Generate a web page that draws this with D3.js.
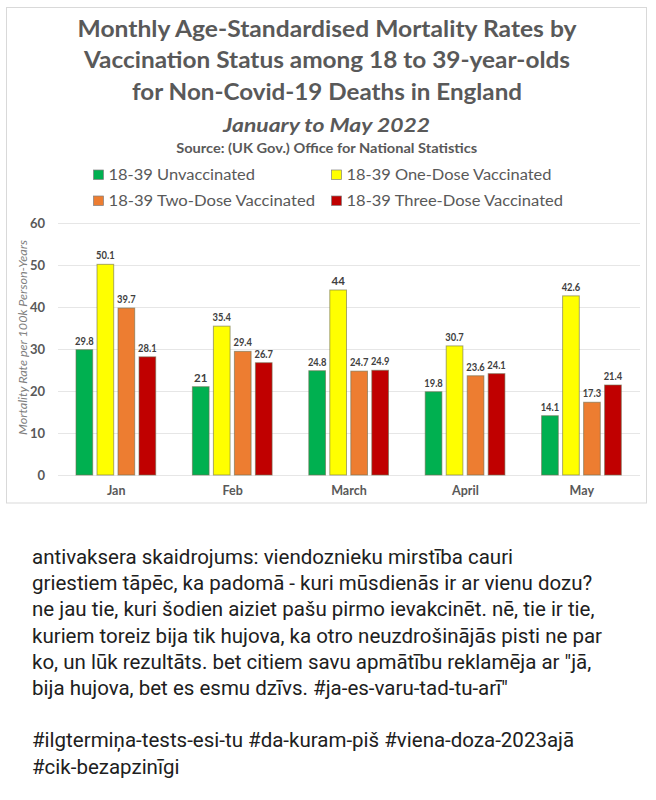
<!DOCTYPE html>
<html>
<head>
<meta charset="utf-8">
<script src="https://cdn.jsdelivr.net/npm/d3@7"></script>
<style>
  html, body { margin: 0; padding: 0; background: #ffffff; }
  svg { display: block; }
</style>
</head>
<body>
<svg id="chart" width="656" height="800"></svg>
<script>
// ---------- DATA ----------
const months = ["Jan", "Feb", "March", "April", "May"];
const seriesNames = ["18-39 Unvaccinated", "18-39 One-Dose Vaccinated", "18-39 Two-Dose Vaccinated", "18-39 Three-Dose Vaccinated"];
const unvaccinated = [29.8, 21, 24.8, 19.8, 14.1];
const oneDose = [50.1, 35.4, 44, 30.7, 42.6];
const twoDose = [39.7, 29.4, 24.7, 23.6, 17.3];
const threeDose = [28.1, 26.7, 24.9, 24.1, 21.4];
const yTicks = [0, 10, 20, 30, 40, 50, 60];
const seriesColors = ["#00b050", "#ffff00", "#ed7d31", "#c00000"];
const titleLines = [
  "Monthly Age-Standardised Mortality Rates by",
  "Vaccination Status among 18 to 39-year-olds",
  "for Non-Covid-19 Deaths in England"
];
const subtitle = "January to May 2022";
const sourceText = "Source: (UK Gov.) Office for National Statistics";
const yAxisTitle = "Mortality Rate per 100k Person-Years";
const captionLines = [
  "antivaksera skaidrojums: viendoznieku mirstība cauri",
  "griestiem tāpēc, ka padomā - kuri mūsdienās ir ar vienu dozu?",
  "ne jau tie, kuri šodien aiziet pašu pirmo ievakcinēt. nē, tie ir tie,",
  "kuriem toreiz bija tik hujova, ka otro neuzdrošinājās pisti ne par",
  "ko, un lūk rezultāts. bet citiem savu apmātību reklamēja ar \"jā,",
  "bija hujova, bet es esmu dzīvs. #ja-es-varu-tad-tu-arī\"",
  "",
  "#ilgtermiņa-tests-esi-tu #da-kuram-piš #viena-doza-2023ajā",
  "#cik-bezapzinīgi"
];

const seriesValues = [unvaccinated, oneDose, twoDose, threeDose];
const table = months.map((m, i) => ({
  month: m,
  values: seriesNames.map((s, j) => ({ key: s, value: seriesValues[j][i], color: seriesColors[j] }))
}));

// ---------- DRAW ----------
const svg = d3.select("#chart");
const FONT = "Lato, 'Open Sans', sans-serif";
const GRAY = "#595959";

function fit(sel, w) {
  sel.attr("textLength", w).attr("lengthAdjust", "spacingAndGlyphs");
}

// chart frame
svg.append("rect")
  .attr("x", 6.5).attr("y", 7.5).attr("width", 640).attr("height", 495.5)
  .attr("fill", "#ffffff").attr("stroke", "#d9d9d9").attr("stroke-width", 1);

// titles
const titleBaselines = [37.3, 68.3, 99.5];
const titleWidths = [499, 486, 390];
titleLines.forEach((t, i) => {
  svg.append("text")
    .attr("x", 327).attr("y", titleBaselines[i])
    .attr("text-anchor", "middle")
    .attr("font-family", FONT).attr("font-weight", "bold").attr("font-size", 22)
    .attr("fill", GRAY).text(t).call(fit, titleWidths[i]);
});
svg.append("text")
  .attr("x", 326.5).attr("y", 131.7).attr("text-anchor", "middle")
  .attr("font-family", FONT).attr("font-weight", "bold").attr("font-style", "italic")
  .attr("font-size", 18.5).attr("fill", GRAY).text(subtitle).call(fit, 207);
svg.append("text")
  .attr("x", 326.7).attr("y", 152.7).attr("text-anchor", "middle")
  .attr("font-family", FONT).attr("font-weight", "bold")
  .attr("font-size", 13.5).attr("fill", GRAY).text(sourceText).call(fit, 301);

// legend
const legendPos = [
  { x: 93.5, y: 170, w: 146.5 },
  { x: 331.5, y: 170, w: 205 },
  { x: 93.5, y: 196, w: 206.5 },
  { x: 331.5, y: 196, w: 216.5 }
];
seriesNames.forEach((s, i) => {
  const p = legendPos[i];
  svg.append("rect")
    .attr("x", p.x).attr("y", p.y).attr("width", 10).attr("height", 9.5)
    .attr("fill", seriesColors[i]).attr("stroke", "#7f7f7f").attr("stroke-width", 0.7);
  svg.append("text")
    .attr("x", p.x + 15).attr("y", p.y + 9.5)
    .attr("font-family", FONT).attr("font-size", 15.5)
    .attr("fill", GRAY).text(s).call(fit, p.w);
});

// scales
const x0 = d3.scaleBand().domain(months).range([58, 640]).padding(0);
const x1 = d3.scaleBand().domain(seriesNames).range([18, 97.7]).paddingInner(0.205).paddingOuter(0);
const y = d3.scaleLinear().domain([0, 60]).range([475, 222.7]);

// gridlines
svg.append("g").selectAll("line").data(yTicks).join("line")
  .attr("x1", 58).attr("x2", 640)
  .attr("y1", d => Math.round(y(d)) + 0.5).attr("y2", d => Math.round(y(d)) + 0.5)
  .attr("stroke", "#e6e6e6").attr("stroke-width", 1);

// y axis labels
const yAxis = d3.axisLeft(y).tickValues(yTicks).tickSize(0).tickPadding(0);
const gy = svg.append("g").attr("transform", "translate(45,0)").call(yAxis);
gy.select(".domain").remove();
gy.selectAll("text")
  .attr("font-family", FONT).attr("font-weight", "bold").attr("font-size", 13)
  .attr("fill", GRAY).attr("dy", "0.35em");

// y axis title
svg.append("text")
  .attr("transform", "translate(26.5,337.5) rotate(-90)")
  .attr("text-anchor", "middle")
  .attr("font-family", FONT).attr("font-style", "italic").attr("font-size", 12)
  .attr("fill", "#7f7f7f").text(yAxisTitle).call(fit, 195);

// x axis labels
const xAxis = d3.axisBottom(x0).tickSize(0).tickPadding(0);
const gx = svg.append("g").attr("transform", "translate(0,486)").call(xAxis);
gx.select(".domain").remove();
gx.selectAll("text")
  .attr("font-family", FONT).attr("font-weight", "bold").attr("font-size", 12.5)
  .attr("fill", GRAY).attr("dy", "0.71em");

// bars
const groups = svg.append("g").selectAll("g").data(table).join("g")
  .attr("transform", d => `translate(${x0(d.month)},0)`);

groups.selectAll("rect").data(d => d.values).join("rect")
  .attr("x", d => x1(d.key))
  .attr("y", d => y(d.value))
  .attr("width", x1.bandwidth())
  .attr("height", d => y(0) - y(d.value))
  .attr("fill", d => d.color)
  .attr("stroke", "#6e6e50").attr("stroke-opacity", 0.6).attr("stroke-width", 1);

groups.selectAll("text").data(d => d.values).join("text")
  .attr("x", d => x1(d.key) + x1.bandwidth() / 2)
  .attr("y", d => y(d.value) - 5)
  .attr("text-anchor", "middle")
  .attr("font-family", FONT).attr("font-weight", "bold").attr("font-size", 11.5)
  .attr("fill", "#404040")
  .text(d => d.value)
  .each(function () {
    const len = this.getComputedTextLength();
    const maxW = x1.step() - 2.5;
    if (len > maxW) d3.select(this).call(fit, maxW);
  });

// caption
svg.append("g").selectAll("text").data(captionLines).join("text")
  .attr("x", 32)
  .attr("y", (d, i) => 564 + i * 26.2)
  .attr("font-family", "Roboto, 'Noto Sans', sans-serif")
  .attr("font-size", 20.5)
  .attr("fill", "#202020")
  .text(d => d);
</script>
</body>
</html>
